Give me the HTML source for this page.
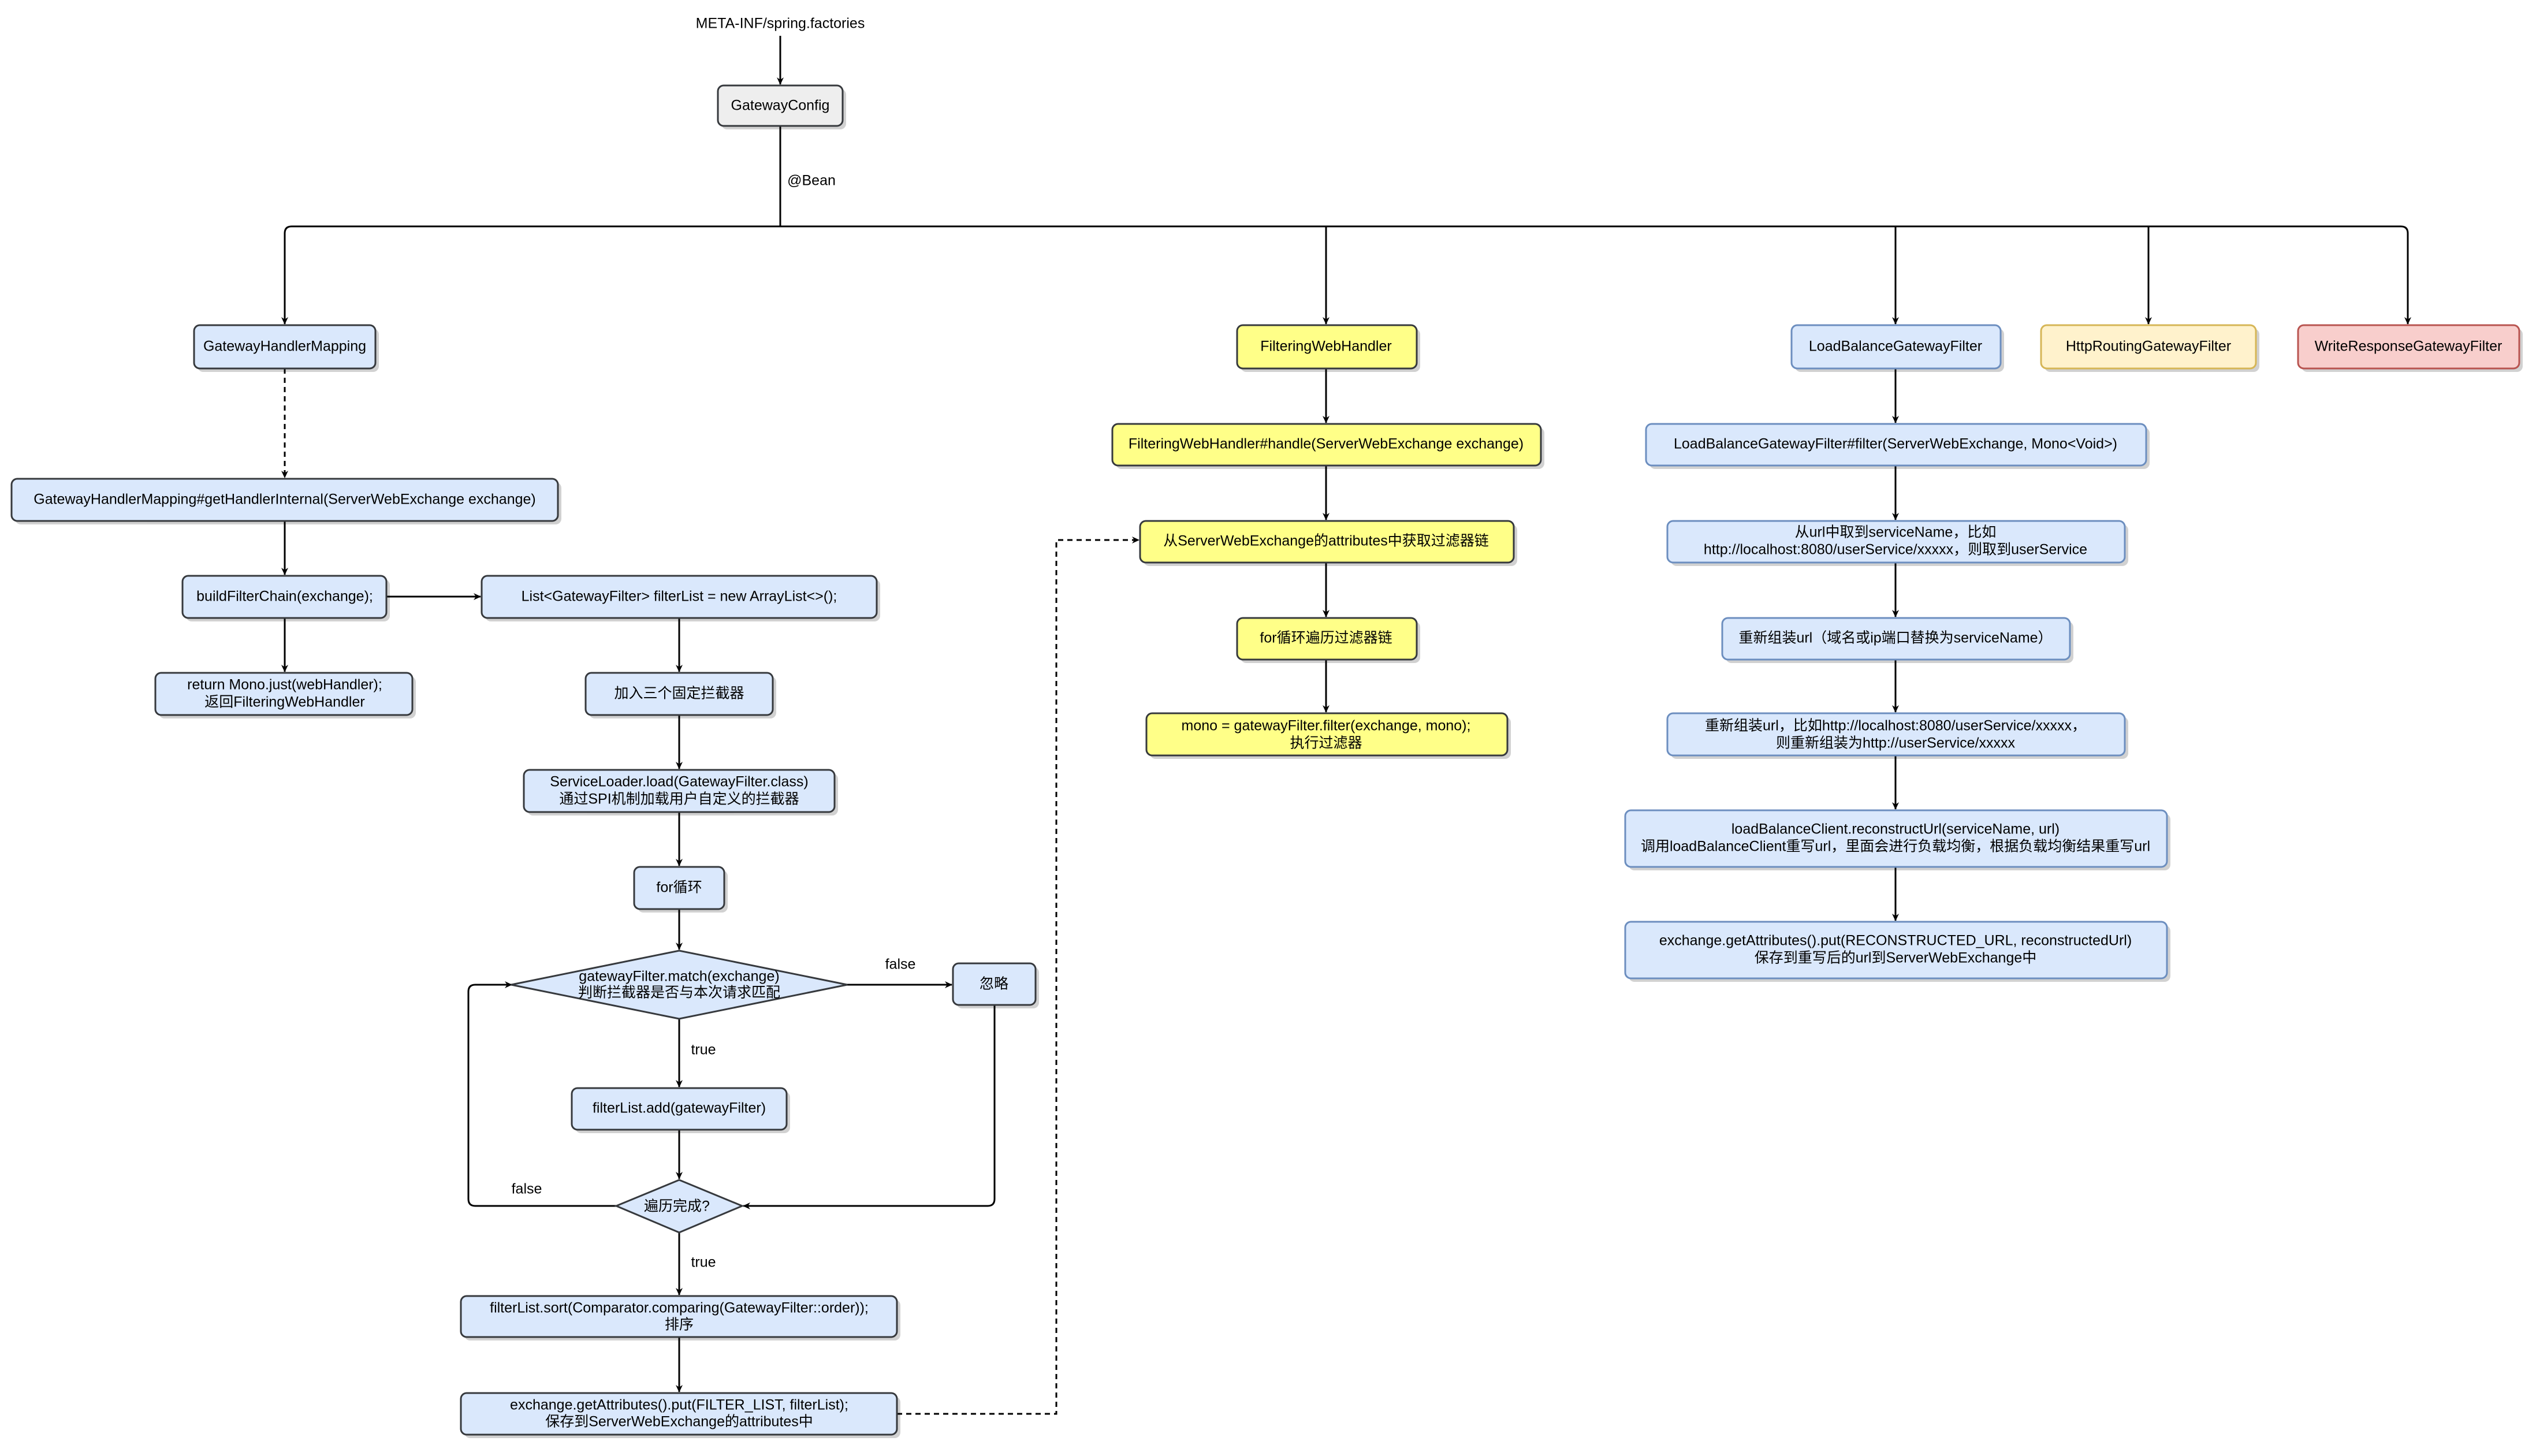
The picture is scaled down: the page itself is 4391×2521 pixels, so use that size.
<!DOCTYPE html>
<html><head><meta charset="utf-8"><style>
html,body{margin:0;padding:0;background:#fff;}
svg text{font-family:"Liberation Sans","Noto Sans CJK SC",sans-serif;font-size:25px;fill:#000;text-anchor:middle;dominant-baseline:middle;}
</style></head><body>
<svg xmlns="http://www.w3.org/2000/svg" width="4391" height="2516" viewBox="0 0 4391 2516">
<defs>
<marker id="a" markerWidth="14" markerHeight="14" refX="12" refY="7" orient="auto" markerUnits="userSpaceOnUse"><path d="M0,1 L13,7 L0,13 L4,7 Z" fill="#000"/></marker>
</defs>
<g fill="none" stroke="#000" stroke-width="3">
<path d="M1351,62 V146" marker-end="url(#a)"/>
<path d="M1351,218 V392"/>
<path d="M505,392 H4157 Q4169,392 4169,404 V561" marker-end="url(#a)"/>
<path d="M505,392 Q493,392 493,404 V561" marker-end="url(#a)"/>
<path d="M2296,392 V561" marker-end="url(#a)"/>
<path d="M3282,392 V561" marker-end="url(#a)"/>
<path d="M3720,392 V561" marker-end="url(#a)"/>
<path d="M493,638 V827" stroke-dasharray="9,7" marker-end="url(#a)"/>
<path d="M493,902 V995" marker-end="url(#a)"/>
<path d="M493,1070 V1163" marker-end="url(#a)"/>
<path d="M669,1033 H832" marker-end="url(#a)"/>
<path d="M1176,1070 V1163" marker-end="url(#a)"/>
<path d="M1176,1238 V1331" marker-end="url(#a)"/>
<path d="M1176,1406 V1499" marker-end="url(#a)"/>
<path d="M1176,1574 V1644" marker-end="url(#a)"/>
<path d="M1467,1705 H1648" marker-end="url(#a)"/>
<path d="M1176,1764 V1882" marker-end="url(#a)"/>
<path d="M1176,1956 V2041" marker-end="url(#a)"/>
<path d="M1067,2088 H823 Q811,2088 811,2076 V1717 Q811,1705 823,1705 H886" marker-end="url(#a)"/>
<path d="M1722,1740 V2076 Q1722,2088 1710,2088 H1287" marker-end="url(#a)"/>
<path d="M1176,2134 V2242" marker-end="url(#a)"/>
<path d="M1176,2315 V2410" marker-end="url(#a)"/>
<path d="M1553,2448 H1829 V935 H1972" stroke-dasharray="9,7" marker-end="url(#a)"/>
<path d="M2296,638 V732" marker-end="url(#a)"/>
<path d="M2296,806 V900" marker-end="url(#a)"/>
<path d="M2296,974 V1068" marker-end="url(#a)"/>
<path d="M2296,1142 V1233" marker-end="url(#a)"/>
<path d="M3282,638 V732" marker-end="url(#a)"/>
<path d="M3282,806 V900" marker-end="url(#a)"/>
<path d="M3282,974 V1068" marker-end="url(#a)"/>
<path d="M3282,1142 V1233" marker-end="url(#a)"/>
<path d="M3282,1308 V1401" marker-end="url(#a)"/>
<path d="M3282,1501 V1594" marker-end="url(#a)"/>
</g>
<!-- shadows -->
<g fill="#000" opacity="0.18">
<rect x="1249" y="154" width="216" height="70" rx="10"/>
<rect x="342" y="569" width="314" height="75" rx="10"/>
<rect x="26" y="835" width="946" height="73" rx="10"/>
<rect x="322" y="1003" width="353" height="73" rx="10"/>
<rect x="275" y="1171" width="445" height="73" rx="10"/>
<rect x="840" y="1003" width="684" height="73" rx="10"/>
<rect x="1020" y="1171" width="324" height="73" rx="10"/>
<rect x="913" y="1339" width="538" height="73" rx="10"/>
<rect x="1104" y="1507" width="156" height="73" rx="10"/>
<rect x="1656" y="1674" width="143" height="72" rx="10"/>
<rect x="996" y="1890" width="372" height="72" rx="10"/>
<rect x="804" y="2250" width="755" height="71" rx="10"/>
<rect x="804" y="2418" width="755" height="72" rx="10"/>
<rect x="2148" y="569" width="311" height="75" rx="10"/>
<rect x="1932" y="740" width="742" height="72" rx="10"/>
<rect x="1980" y="908" width="647" height="72" rx="10"/>
<rect x="2148" y="1076" width="311" height="72" rx="10"/>
<rect x="1991" y="1241" width="625" height="73" rx="10"/>
<rect x="3108" y="569" width="362" height="75" rx="10"/>
<rect x="3540" y="569" width="372" height="75" rx="10"/>
<rect x="3985" y="569" width="383" height="75" rx="10"/>
<rect x="2856" y="740" width="866" height="72" rx="10"/>
<rect x="2893" y="908" width="792" height="72" rx="10"/>
<rect x="2988" y="1076" width="602" height="72" rx="10"/>
<rect x="2893" y="1241" width="792" height="73" rx="10"/>
<rect x="2820" y="1409" width="938" height="98" rx="10"/>
<rect x="2820" y="1602" width="938" height="98" rx="10"/>
</g>
<g stroke-width="3">
<rect x="1243" y="148" width="216" height="70" rx="10" fill="#eeeeee" stroke="#36393d"/>
<g fill="#dae8fc" stroke="#36393d">
<rect x="336" y="563" width="314" height="75" rx="10"/>
<rect x="20" y="829" width="946" height="73" rx="10"/>
<rect x="316" y="997" width="353" height="73" rx="10"/>
<rect x="269" y="1165" width="445" height="73" rx="10"/>
<rect x="834" y="997" width="684" height="73" rx="10"/>
<rect x="1014" y="1165" width="324" height="73" rx="10"/>
<rect x="907" y="1333" width="538" height="73" rx="10"/>
<rect x="1098" y="1501" width="156" height="73" rx="10"/>
<path d="M885,1705 L1176,1646 L1467,1705 L1176,1764 Z"/>
<rect x="1650" y="1668" width="143" height="72" rx="10"/>
<rect x="990" y="1884" width="372" height="72" rx="10"/>
<path d="M1067,2088 L1176,2043 L1285,2088 L1176,2134 Z"/>
<rect x="798" y="2244" width="755" height="71" rx="10"/>
<rect x="798" y="2412" width="755" height="72" rx="10"/>
</g>
<g fill="#ffff88" stroke="#36393d">
<rect x="2142" y="563" width="311" height="75" rx="10"/>
<rect x="1926" y="734" width="742" height="72" rx="10"/>
<rect x="1974" y="902" width="647" height="72" rx="10"/>
<rect x="2142" y="1070" width="311" height="72" rx="10"/>
<rect x="1985" y="1235" width="625" height="73" rx="10"/>
</g>
<g fill="#dae8fc" stroke="#6c8ebf">
<rect x="3102" y="563" width="362" height="75" rx="10"/>
<rect x="2850" y="734" width="866" height="72" rx="10"/>
<rect x="2887" y="902" width="792" height="72" rx="10"/>
<rect x="2982" y="1070" width="602" height="72" rx="10"/>
<rect x="2887" y="1235" width="792" height="73" rx="10"/>
<rect x="2814" y="1403" width="938" height="98" rx="10"/>
<rect x="2814" y="1596" width="938" height="98" rx="10"/>
</g>
<rect x="3534" y="563" width="372" height="75" rx="10" fill="#fff2cc" stroke="#d6b656"/>
<rect x="3979" y="563" width="383" height="75" rx="10" fill="#f8cecc" stroke="#b85450"/>
</g>
<text x="1351" y="42">META-INF/spring.factories</text>
<text x="1351" y="184">GatewayConfig</text>
<text x="1405" y="314">@Bean</text>
<text x="493" y="601">GatewayHandlerMapping</text>
<text x="493" y="866">GatewayHandlerMapping#getHandlerInternal(ServerWebExchange exchange)</text>
<text x="493" y="1034">buildFilterChain(exchange);</text>
<text x="493" y="1187">return Mono.just(webHandler);</text>
<text x="493" y="1217">返回FilteringWebHandler</text>
<text x="1176" y="1034">List&lt;GatewayFilter&gt; filterList = new ArrayList&lt;&gt;();</text>
<text x="1176" y="1202">加入三个固定拦截器</text>
<text x="1176" y="1355">ServiceLoader.load(GatewayFilter.class)</text>
<text x="1176" y="1385">通过SPI机制加载用户自定义的拦截器</text>
<text x="1176" y="1538">for循环</text>
<text x="1176" y="1692">gatewayFilter.match(exchange)</text>
<text x="1176" y="1720">判断拦截器是否与本次请求匹配</text>
<text x="1559" y="1671">false</text>
<text x="1721" y="1705">忽略</text>
<text x="1218" y="1819">true</text>
<text x="1176" y="1920">filterList.add(gatewayFilter)</text>
<text x="1172" y="2090">遍历完成?</text>
<text x="912" y="2060">false</text>
<text x="1218" y="2187">true</text>
<text x="1176" y="2266">filterList.sort(Comparator.comparing(GatewayFilter::order));</text>
<text x="1176" y="2295">排序</text>
<text x="1176" y="2434">exchange.getAttributes().put(FILTER_LIST, filterList);</text>
<text x="1176" y="2463">保存到ServerWebExchange的attributes中</text>
<text x="2296" y="601">FilteringWebHandler</text>
<text x="2296" y="770">FilteringWebHandler#handle(ServerWebExchange exchange)</text>
<text x="2296" y="938">从ServerWebExchange的attributes中获取过滤器链</text>
<text x="2296" y="1106">for循环遍历过滤器链</text>
<text x="2296" y="1258">mono = gatewayFilter.filter(exchange, mono);</text>
<text x="2296" y="1288">执行过滤器</text>
<text x="3282" y="601">LoadBalanceGatewayFilter</text>
<text x="3720" y="601">HttpRoutingGatewayFilter</text>
<text x="4170" y="601">WriteResponseGatewayFilter</text>
<text x="3282" y="770">LoadBalanceGatewayFilter#filter(ServerWebExchange, Mono&lt;Void&gt;)</text>
<text x="3282" y="923">从url中取到serviceName，比如</text>
<text x="3282" y="953">http://localhost:8080/userService/xxxxx，则取到userService</text>
<text x="3282" y="1106">重新组装url（域名或ip端口替换为serviceName）</text>
<text x="3282" y="1258">重新组装url，比如http://localhost:8080/userService/xxxxx，</text>
<text x="3282" y="1288">则重新组装为http://userService/xxxxx</text>
<text x="3282" y="1437">loadBalanceClient.reconstructUrl(serviceName, url)</text>
<text x="3282" y="1467">调用loadBalanceClient重写url，里面会进行负载均衡，根据负载均衡结果重写url</text>
<text x="3282" y="1630">exchange.getAttributes().put(RECONSTRUCTED_URL, reconstructedUrl)</text>
<text x="3282" y="1660">保存到重写后的url到ServerWebExchange中</text>
</svg>
</body></html>
